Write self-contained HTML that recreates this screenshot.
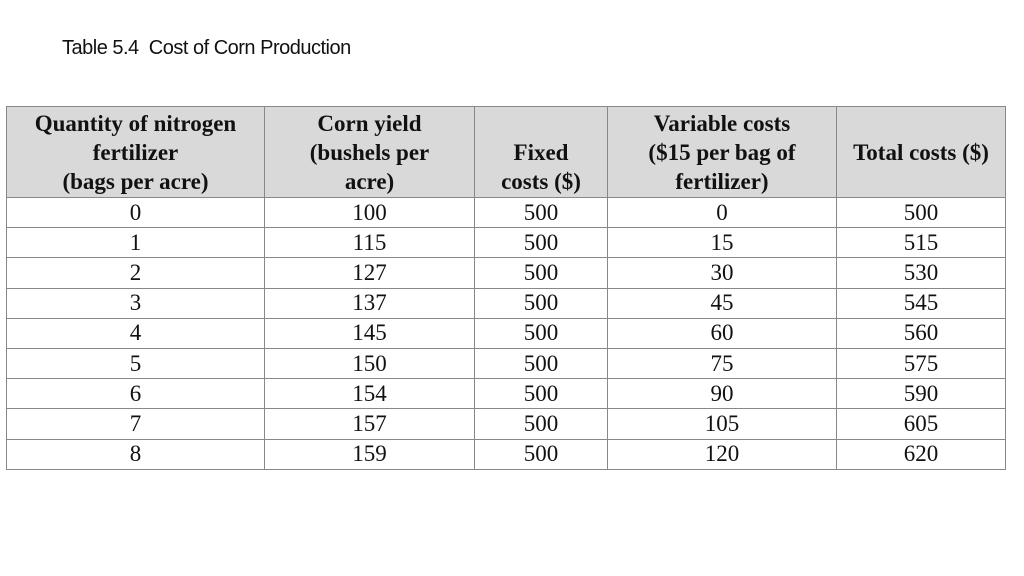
<!DOCTYPE html>
<html><head><meta charset="utf-8"><style>
body{margin:0;width:1024px;height:576px;background:#fff;position:relative;overflow:hidden}
#title{position:absolute;left:62px;top:37px;font:20px "Liberation Sans",sans-serif;color:#111;letter-spacing:-0.5px}
table{position:absolute;left:6px;top:106px;border-collapse:collapse;table-layout:fixed;font-family:"Liberation Serif",serif;color:#111}
td,th{border:1.5px solid #888;text-align:center;padding:0}
th{background:#d9d9d9;font-weight:bold;font-size:23px;line-height:29px;height:89px}
td{font-size:23px;height:29.2px;line-height:28px}
</style></head><body>
<div id="title">Table 5.4&nbsp; Cost of Corn Production</div>
<table>
<colgroup><col style="width:258px"><col style="width:210px"><col style="width:133px"><col style="width:229px"><col style="width:169px"></colgroup>
<thead><tr>
<th>Quantity of nitrogen<br>fertilizer<br>(bags per acre)</th>
<th>Corn yield<br>(bushels per<br>acre)</th>
<th style="vertical-align:bottom;padding-bottom:1px">Fixed<br>costs ($)</th>
<th>Variable costs<br>($15 per bag of<br>fertilizer)</th>
<th>Total costs ($)</th>
</tr></thead>
<tbody id="tb"></tbody></table>
<script>
const qty=[0,1,2,3,4,5,6,7,8];
const yieldV=[100,115,127,137,145,150,154,157,159];
const fixed=[500,500,500,500,500,500,500,500,500];
const variable=[0,15,30,45,60,75,90,105,120];
const total=[500,515,530,545,560,575,590,605,620];
const tb=document.getElementById('tb');
const names=['quantity','yield','fixed','variable','total'];
qty.forEach((q,i)=>{
 const tr=document.createElement('tr');
 
 
 [q,yieldV[i],fixed[i],variable[i],total[i]].forEach((v,j)=>{
  const td=document.createElement('td');
  
  
  td.textContent=v;
  tr.appendChild(td);
 });
 tb.appendChild(tr);
});
</script>
</body></html>
